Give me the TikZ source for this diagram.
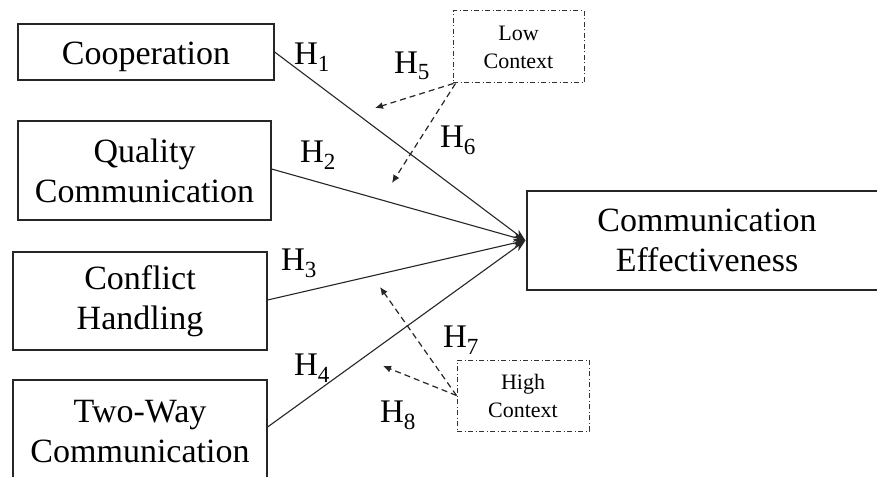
\documentclass[tikz,border=0pt]{standalone}
\usepackage{fontspec}
\setmainfont{Liberation Serif}
\usetikzlibrary{arrows.meta,calc}
\begin{document}
\begin{tikzpicture}[x=1pt,y=-1pt,
  box/.style={draw=black!85,line width=1.2pt,inner sep=0pt,align=center,
    font=\fontsize{34}{40}\selectfont},
  ctx/.style={draw=black!80,line width=1pt,dash pattern=on 5pt off 2.5pt on 1pt off 2.5pt,inner sep=0pt,align=center,
    font=\fontsize{22}{28}\selectfont},
  hyp/.style={font=\fontsize{33}{36}\selectfont,inner sep=0pt},
  path/.style={draw=black!85,line width=1.1pt,-{Stealth[length=12pt,width=9pt]}},
  mod/.style={draw=black!85,line width=1.2pt,dash pattern=on 6pt off 4pt,-{Latex[length=8pt,width=7pt]}}]
\useasboundingbox[fill=white] (0,0) rectangle (877,476);
\node[box,minimum width=256pt,minimum height=56pt,text height=26pt,text depth=0pt] (coop) at (146,52) {Cooperation};
\node[box,minimum width=253pt,minimum height=99pt] (qual) at (144.5,170.5) {Quality\\Communication};
\node[box,minimum width=254pt,minimum height=98pt] (conf) at (140,301) {Conflict\\Handling};
\node[box,minimum width=254pt,minimum height=104pt] (two) at (140,432) {Two-Way\\Communication};
\node[box,minimum width=360pt,minimum height=99pt] (eff) at (707,240.5) {Communication\\Effectiveness};
\node[ctx,minimum width=131pt,minimum height=72pt] (low) at (518.5,47) {Low\\Context};
\node[ctx,minimum width=132pt,minimum height=71pt] (high) at (523,395.5) {High\\Context};
\coordinate (tip) at ($(eff.west)+(-1,0)$);
\coordinate (t5) at (375,108);
\coordinate (t6) at (392,183);
\coordinate (t7) at (380,287);
\coordinate (t8) at (383,366);
\draw[path] (coop.east) -- (tip);
\draw[path] ($(qual.east)+(0,-1.5)$) -- (tip);
\draw[path] ($(conf.east)+(0,-1)$) -- (tip);
\draw[path] ($(two.east)+(0,-5)$) -- (tip);
\draw[mod] ($(low.south west)+(1,0)$) -- (t5);
\draw[mod] ($(low.south west)+(3,0)$) -- (t6);
\draw[mod] (high.west) -- (t7);
\draw[mod] (high.west) -- (t8);
\node[hyp] (h1) at (312,57) {H\textsubscript{1}};
\node[hyp] (h2) at (318,155) {H\textsubscript{2}};
\node[hyp] (h3) at (299,263) {H\textsubscript{3}};
\node[hyp] (h4) at (312,368) {H\textsubscript{4}};
\node[hyp] (h5) at (412,66) {H\textsubscript{5}};
\node[hyp] (h6) at (458,140) {H\textsubscript{6}};
\node[hyp] (h7) at (461,340) {H\textsubscript{7}};
\node[hyp] (h8) at (398,415) {H\textsubscript{8}};
\end{tikzpicture}
\end{document}
